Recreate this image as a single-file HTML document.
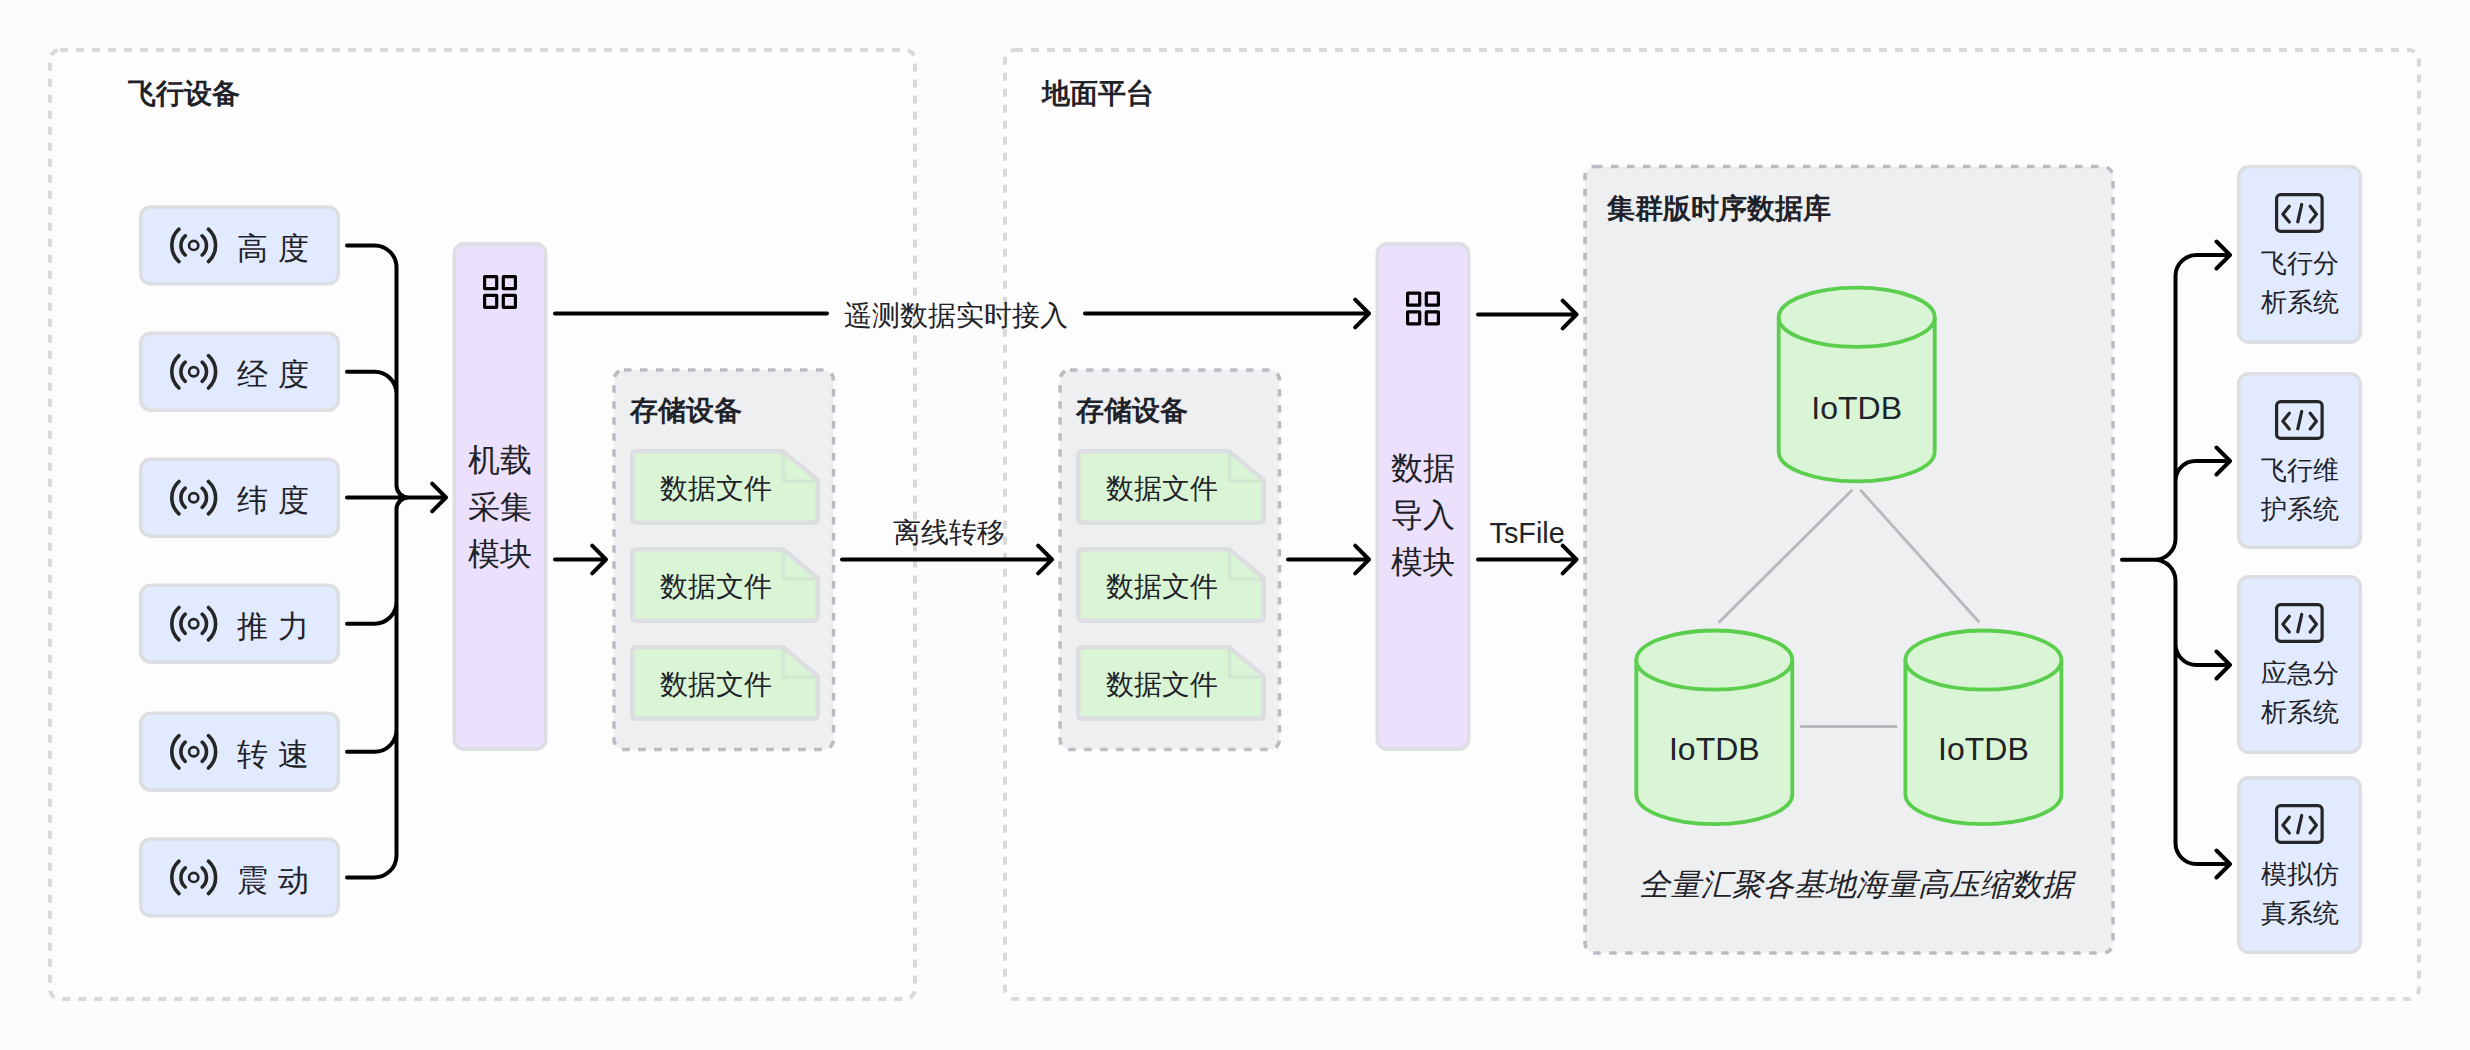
<!DOCTYPE html>
<html><head><meta charset="utf-8"><title>diagram</title>
<style>
html,body{margin:0;padding:0;background:#fcfcfc;}
#root{position:relative;width:2470px;height:1050px;overflow:hidden;background:#fcfcfc;font-family:"Liberation Sans",sans-serif;}
#root svg{position:absolute;left:0;top:0;}
.t{position:absolute;white-space:nowrap;}
</style></head><body>
<div id="root">
<svg width="2470" height="1050" viewBox="0 0 2470 1050">
<defs><filter id="bl" x="-20%" y="-20%" width="140%" height="140%"><feGaussianBlur stdDeviation="1.2"/></filter></defs>
<rect x="50" y="50" width="865" height="949" rx="10" fill="#fdfdfd" stroke="#d9d9d9" stroke-width="4" stroke-dasharray="8 8"/>
<rect x="1005" y="50" width="1414" height="949" rx="10" fill="#fdfdfd" stroke="#d9d9d9" stroke-width="4" stroke-dasharray="8 8"/>
<rect x="140.75" y="206.95" width="197.5" height="76.9" rx="10" fill="#e1eaff" stroke="#dcdee2" stroke-width="3.5"/>
<g fill="none" stroke="#262626" stroke-linecap="round"><circle cx="193.7" cy="245.4" r="4.6" stroke-width="2.7"/>
<path d="M185.24 235.80 A12.8 12.8 0 0 0 185.24 255.00" stroke-width="3.6"/>
<path d="M202.16 235.80 A12.8 12.8 0 0 1 202.16 255.00" stroke-width="3.6"/>
<path d="M178.96 229.20 A21.9 21.9 0 0 0 178.96 261.60" stroke-width="3.6"/>
<path d="M208.44 229.20 A21.9 21.9 0 0 1 208.44 261.60" stroke-width="3.6"/>
</g>
<rect x="140.75" y="333.35" width="197.5" height="76.9" rx="10" fill="#e1eaff" stroke="#dcdee2" stroke-width="3.5"/>
<g fill="none" stroke="#262626" stroke-linecap="round"><circle cx="193.7" cy="371.8" r="4.6" stroke-width="2.7"/>
<path d="M185.24 362.20 A12.8 12.8 0 0 0 185.24 381.40" stroke-width="3.6"/>
<path d="M202.16 362.20 A12.8 12.8 0 0 1 202.16 381.40" stroke-width="3.6"/>
<path d="M178.96 355.60 A21.9 21.9 0 0 0 178.96 388.00" stroke-width="3.6"/>
<path d="M208.44 355.60 A21.9 21.9 0 0 1 208.44 388.00" stroke-width="3.6"/>
</g>
<rect x="140.75" y="459.25" width="197.5" height="76.9" rx="10" fill="#e1eaff" stroke="#dcdee2" stroke-width="3.5"/>
<g fill="none" stroke="#262626" stroke-linecap="round"><circle cx="193.7" cy="497.7" r="4.6" stroke-width="2.7"/>
<path d="M185.24 488.10 A12.8 12.8 0 0 0 185.24 507.30" stroke-width="3.6"/>
<path d="M202.16 488.10 A12.8 12.8 0 0 1 202.16 507.30" stroke-width="3.6"/>
<path d="M178.96 481.50 A21.9 21.9 0 0 0 178.96 513.90" stroke-width="3.6"/>
<path d="M208.44 481.50 A21.9 21.9 0 0 1 208.44 513.90" stroke-width="3.6"/>
</g>
<rect x="140.75" y="585.25" width="197.5" height="76.9" rx="10" fill="#e1eaff" stroke="#dcdee2" stroke-width="3.5"/>
<g fill="none" stroke="#262626" stroke-linecap="round"><circle cx="193.7" cy="623.7" r="4.6" stroke-width="2.7"/>
<path d="M185.24 614.10 A12.8 12.8 0 0 0 185.24 633.30" stroke-width="3.6"/>
<path d="M202.16 614.10 A12.8 12.8 0 0 1 202.16 633.30" stroke-width="3.6"/>
<path d="M178.96 607.50 A21.9 21.9 0 0 0 178.96 639.90" stroke-width="3.6"/>
<path d="M208.44 607.50 A21.9 21.9 0 0 1 208.44 639.90" stroke-width="3.6"/>
</g>
<rect x="140.75" y="713.35" width="197.5" height="76.9" rx="10" fill="#e1eaff" stroke="#dcdee2" stroke-width="3.5"/>
<g fill="none" stroke="#262626" stroke-linecap="round"><circle cx="193.7" cy="751.8" r="4.6" stroke-width="2.7"/>
<path d="M185.24 742.20 A12.8 12.8 0 0 0 185.24 761.40" stroke-width="3.6"/>
<path d="M202.16 742.20 A12.8 12.8 0 0 1 202.16 761.40" stroke-width="3.6"/>
<path d="M178.96 735.60 A21.9 21.9 0 0 0 178.96 768.00" stroke-width="3.6"/>
<path d="M208.44 735.60 A21.9 21.9 0 0 1 208.44 768.00" stroke-width="3.6"/>
</g>
<rect x="140.75" y="838.95" width="197.5" height="76.9" rx="10" fill="#e1eaff" stroke="#dcdee2" stroke-width="3.5"/>
<g fill="none" stroke="#262626" stroke-linecap="round"><circle cx="193.7" cy="877.4" r="4.6" stroke-width="2.7"/>
<path d="M185.24 867.80 A12.8 12.8 0 0 0 185.24 887.00" stroke-width="3.6"/>
<path d="M202.16 867.80 A12.8 12.8 0 0 1 202.16 887.00" stroke-width="3.6"/>
<path d="M178.96 861.20 A21.9 21.9 0 0 0 178.96 893.60" stroke-width="3.6"/>
<path d="M208.44 861.20 A21.9 21.9 0 0 1 208.44 893.60" stroke-width="3.6"/>
</g>
<path d="M347 245.4 H374.5 A22 22 0 0 1 396.5 267.4 V485.5 A12 12 0 0 0 408.5 497.5 H446 M347 371.8 H374.5 A22 22 0 0 1 396.5 393.8 V485.5 A12 12 0 0 0 408.5 497.5 H446 M347 497.5 H446 M347 623.7 H374.5 A22 22 0 0 0 396.5 601.7 V509.5 A12 12 0 0 1 408.5 497.5 H446 M347 751.8 H374.5 A22 22 0 0 0 396.5 729.8 V509.5 A12 12 0 0 1 408.5 497.5 H446 M347 877.4 H374.5 A22 22 0 0 0 396.5 855.4 V509.5 A12 12 0 0 1 408.5 497.5 H446 M432.2 483.7 L446 497.5 L432.2 511.3" fill="none" stroke="#000000" stroke-width="4" stroke-linecap="round" stroke-linejoin="round"/>
<rect x="454.25" y="243.75" width="91.5" height="505.5" rx="10" fill="#ebe1fd" stroke="#dcdee2" stroke-width="3.5"/>
<rect x="484.60" y="276.60" width="12.10" height="12.10" rx="0.3" fill="none" stroke="#000" stroke-width="3.2"/>
<rect x="484.60" y="295.30" width="12.10" height="12.10" rx="0.3" fill="none" stroke="#000" stroke-width="3.2"/>
<rect x="503.30" y="276.60" width="12.10" height="12.10" rx="0.3" fill="none" stroke="#000" stroke-width="3.2"/>
<rect x="503.30" y="295.30" width="12.10" height="12.10" rx="0.3" fill="none" stroke="#000" stroke-width="3.2"/>
<rect x="1377.25" y="243.75" width="91.5" height="505.5" rx="10" fill="#ebe1fd" stroke="#dcdee2" stroke-width="3.5"/>
<rect x="1407.60" y="293.10" width="12.10" height="12.10" rx="0.3" fill="none" stroke="#000" stroke-width="3.2"/>
<rect x="1407.60" y="311.80" width="12.10" height="12.10" rx="0.3" fill="none" stroke="#000" stroke-width="3.2"/>
<rect x="1426.30" y="293.10" width="12.10" height="12.10" rx="0.3" fill="none" stroke="#000" stroke-width="3.2"/>
<rect x="1426.30" y="311.80" width="12.10" height="12.10" rx="0.3" fill="none" stroke="#000" stroke-width="3.2"/>
<path d="M555 313.5 H827" fill="none" stroke="#000" stroke-width="4" stroke-linecap="round"/>
<path d="M1085 313.5 H1369 M1355.2 299.7 L1369 313.5 L1355.2 327.3" fill="none" stroke="#000000" stroke-width="4" stroke-linecap="round" stroke-linejoin="round"/>
<path d="M555 559.5 H606 M592.2 545.7 L606 559.5 L592.2 573.3" fill="none" stroke="#000000" stroke-width="4" stroke-linecap="round" stroke-linejoin="round"/>
<path d="M842 559.5 H1052 M1038.2 545.7 L1052 559.5 L1038.2 573.3" fill="none" stroke="#000000" stroke-width="4" stroke-linecap="round" stroke-linejoin="round"/>
<path d="M1288 559.5 H1369 M1355.2 545.7 L1369 559.5 L1355.2 573.3" fill="none" stroke="#000000" stroke-width="4" stroke-linecap="round" stroke-linejoin="round"/>
<path d="M1478 314.5 H1576.5 M1562.7 300.7 L1576.5 314.5 L1562.7 328.3" fill="none" stroke="#000000" stroke-width="4" stroke-linecap="round" stroke-linejoin="round"/>
<path d="M1478 559.5 H1576.5 M1562.7 545.7 L1576.5 559.5 L1562.7 573.3" fill="none" stroke="#000000" stroke-width="4" stroke-linecap="round" stroke-linejoin="round"/>
<rect x="614" y="370" width="219.5" height="379.5" rx="10" fill="#eeeff1" stroke="#b9bdc3" stroke-width="3.6" stroke-dasharray="7.5 8.5"/>
<path d="M632.25 455.25 Q632.25 451.25 636.25 451.25 H783 L817.75 480 V518.75 Q817.75 522.75 813.75 522.75 H636.25 Q632.25 522.75 632.25 518.75 Z" fill="#d9f5d6" stroke="#dcdee2" stroke-width="4.5" stroke-linejoin="round"/>
<path d="M783.5 452.25 V481 H815.75" fill="none" stroke="#cfdccf" stroke-width="2.2" filter="url(#bl)"/>
<path d="M632.25 553.25 Q632.25 549.25 636.25 549.25 H783 L817.75 578 V616.75 Q817.75 620.75 813.75 620.75 H636.25 Q632.25 620.75 632.25 616.75 Z" fill="#d9f5d6" stroke="#dcdee2" stroke-width="4.5" stroke-linejoin="round"/>
<path d="M783.5 550.25 V579 H815.75" fill="none" stroke="#cfdccf" stroke-width="2.2" filter="url(#bl)"/>
<path d="M632.25 651.25 Q632.25 647.25 636.25 647.25 H783 L817.75 676 V714.75 Q817.75 718.75 813.75 718.75 H636.25 Q632.25 718.75 632.25 714.75 Z" fill="#d9f5d6" stroke="#dcdee2" stroke-width="4.5" stroke-linejoin="round"/>
<path d="M783.5 648.25 V677 H815.75" fill="none" stroke="#cfdccf" stroke-width="2.2" filter="url(#bl)"/>
<rect x="1060" y="370" width="219.5" height="379.5" rx="10" fill="#eeeff1" stroke="#b9bdc3" stroke-width="3.6" stroke-dasharray="7.5 8.5"/>
<path d="M1078.25 455.25 Q1078.25 451.25 1082.25 451.25 H1229 L1263.75 480 V518.75 Q1263.75 522.75 1259.75 522.75 H1082.25 Q1078.25 522.75 1078.25 518.75 Z" fill="#d9f5d6" stroke="#dcdee2" stroke-width="4.5" stroke-linejoin="round"/>
<path d="M1229.5 452.25 V481 H1261.75" fill="none" stroke="#cfdccf" stroke-width="2.2" filter="url(#bl)"/>
<path d="M1078.25 553.25 Q1078.25 549.25 1082.25 549.25 H1229 L1263.75 578 V616.75 Q1263.75 620.75 1259.75 620.75 H1082.25 Q1078.25 620.75 1078.25 616.75 Z" fill="#d9f5d6" stroke="#dcdee2" stroke-width="4.5" stroke-linejoin="round"/>
<path d="M1229.5 550.25 V579 H1261.75" fill="none" stroke="#cfdccf" stroke-width="2.2" filter="url(#bl)"/>
<path d="M1078.25 651.25 Q1078.25 647.25 1082.25 647.25 H1229 L1263.75 676 V714.75 Q1263.75 718.75 1259.75 718.75 H1082.25 Q1078.25 718.75 1078.25 714.75 Z" fill="#d9f5d6" stroke="#dcdee2" stroke-width="4.5" stroke-linejoin="round"/>
<path d="M1229.5 648.25 V677 H1261.75" fill="none" stroke="#cfdccf" stroke-width="2.2" filter="url(#bl)"/>
<rect x="1585" y="166.5" width="528" height="786.5" rx="10" fill="#eeeff1" stroke="#b9bdc3" stroke-width="3.6" stroke-dasharray="7.5 8.5"/>
<path d="M1851.4 490.7 L1719.4 621.9 M1861.1 490.7 L1978.5 621.4 M1801 726.5 H1896" fill="none" stroke="#b7bbc0" stroke-width="3" stroke-linecap="round"/>
<path d="M1778.7 317.3 V451.8 A78 29.6 0 0 0 1934.7 451.8 V317.3" fill="#d9f5d6" stroke="#5bce4e" stroke-width="3.8"/>
<ellipse cx="1856.7" cy="317.3" rx="78" ry="29.6" fill="#d9f5d6" stroke="#5bce4e" stroke-width="3.8"/>
<path d="M1636.3 660.1 V794.6 A78 29.6 0 0 0 1792.3 794.6 V660.1" fill="#d9f5d6" stroke="#5bce4e" stroke-width="3.8"/>
<ellipse cx="1714.3" cy="660.1" rx="78" ry="29.6" fill="#d9f5d6" stroke="#5bce4e" stroke-width="3.8"/>
<path d="M1905.4 660.1 V794.6 A78 29.6 0 0 0 2061.4 794.6 V660.1" fill="#d9f5d6" stroke="#5bce4e" stroke-width="3.8"/>
<ellipse cx="1983.4" cy="660.1" rx="78" ry="29.6" fill="#d9f5d6" stroke="#5bce4e" stroke-width="3.8"/>
<path d="M2122 559.7 H2154.5 A21 21 0 0 0 2175.5 538.7 V276 A21 21 0 0 1 2196.5 255 H2230 M2122 559.7 H2154.5 A21 21 0 0 0 2175.5 538.7 V481 A20 20 0 0 1 2195.5 461 H2230 M2122 559.7 H2154.5 A21 21 0 0 1 2175.5 580.7 V644 A21 21 0 0 0 2196.5 665 H2230 M2122 559.7 H2154.5 A21 21 0 0 1 2175.5 580.7 V843 A21 21 0 0 0 2196.5 864 H2230 M2216.5 241.5 L2230 255 L2216.5 268.5 M2216.5 447.5 L2230 461 L2216.5 474.5 M2216.5 651.5 L2230 665 L2216.5 678.5 M2216.5 850.5 L2230 864 L2216.5 877.5" fill="none" stroke="#000000" stroke-width="4" stroke-linecap="round" stroke-linejoin="round"/>
<rect x="2238.75" y="166.75" width="121.5" height="175.5" rx="10" fill="#e1eaff" stroke="#dcdee2" stroke-width="3.5"/>
<g fill="none" stroke="#262626" stroke-width="3.2" stroke-linecap="round" stroke-linejoin="round"><rect x="2276.6" y="194.6" width="45.5" height="36.8" rx="4"/><path d="M2289.3 206.3 L2282.9 214.3 L2289.3 222 M2301.7 204.5 L2297.8 221.8 M2310.2 206.3 L2316.4 214.3 L2310.2 222"/></g>
<rect x="2238.75" y="373.75" width="121.5" height="173.5" rx="10" fill="#e1eaff" stroke="#dcdee2" stroke-width="3.5"/>
<g fill="none" stroke="#262626" stroke-width="3.2" stroke-linecap="round" stroke-linejoin="round"><rect x="2276.6" y="401.6" width="45.5" height="36.8" rx="4"/><path d="M2289.3 413.3 L2282.9 421.3 L2289.3 429 M2301.7 411.5 L2297.8 428.8 M2310.2 413.3 L2316.4 421.3 L2310.2 429"/></g>
<rect x="2238.75" y="576.75" width="121.5" height="175.5" rx="10" fill="#e1eaff" stroke="#dcdee2" stroke-width="3.5"/>
<g fill="none" stroke="#262626" stroke-width="3.2" stroke-linecap="round" stroke-linejoin="round"><rect x="2276.6" y="604.6" width="45.5" height="36.8" rx="4"/><path d="M2289.3 616.3 L2282.9 624.3 L2289.3 632 M2301.7 614.5 L2297.8 631.8 M2310.2 616.3 L2316.4 624.3 L2310.2 632"/></g>
<rect x="2238.75" y="777.75" width="121.5" height="174.5" rx="10" fill="#e1eaff" stroke="#dcdee2" stroke-width="3.5"/>
<g fill="none" stroke="#262626" stroke-width="3.2" stroke-linecap="round" stroke-linejoin="round"><rect x="2276.6" y="805.6" width="45.5" height="36.8" rx="4"/><path d="M2289.3 817.3 L2282.9 825.3 L2289.3 833 M2301.7 815.5 L2297.8 832.8 M2310.2 817.3 L2316.4 825.3 L2310.2 833"/></g>
</svg>
<div class="t" style="left:128px;top:77px;font-size:28px;line-height:33.6px;font-weight:700;font-style:normal;letter-spacing:0px;color:#1f2329;">飞行设备</div>
<div class="t" style="left:1042px;top:77px;font-size:28px;line-height:33.6px;font-weight:700;font-style:normal;letter-spacing:0px;color:#1f2329;">地面平台</div>
<div class="t" style="left:237px;top:229.7px;font-size:31px;line-height:37.2px;font-weight:400;font-style:normal;letter-spacing:0.6px;color:#1f2329;">高 度</div>
<div class="t" style="left:237px;top:356.1px;font-size:31px;line-height:37.2px;font-weight:400;font-style:normal;letter-spacing:0.6px;color:#1f2329;">经 度</div>
<div class="t" style="left:237px;top:482.0px;font-size:31px;line-height:37.2px;font-weight:400;font-style:normal;letter-spacing:0.6px;color:#1f2329;">纬 度</div>
<div class="t" style="left:237px;top:608.0px;font-size:31px;line-height:37.2px;font-weight:400;font-style:normal;letter-spacing:0.6px;color:#1f2329;">推 力</div>
<div class="t" style="left:237px;top:736.1px;font-size:31px;line-height:37.2px;font-weight:400;font-style:normal;letter-spacing:0.6px;color:#1f2329;">转 速</div>
<div class="t" style="left:237px;top:861.7px;font-size:31px;line-height:37.2px;font-weight:400;font-style:normal;letter-spacing:0.6px;color:#1f2329;">震 动</div>
<div class="t" style="left:468.0px;top:437px;font-size:32px;line-height:47px;font-weight:400;font-style:normal;letter-spacing:0px;color:#1f2329;text-align:center;width:64px">机载<br>采集<br>模块</div>
<div class="t" style="left:1391.0px;top:445px;font-size:32px;line-height:47px;font-weight:400;font-style:normal;letter-spacing:0px;color:#1f2329;text-align:center;width:64px">数据<br>导入<br>模块</div>
<div class="t" style="left:844px;top:298.5px;font-size:28px;line-height:33.6px;font-weight:400;font-style:normal;letter-spacing:0px;color:#1f2329;">遥测数据实时接入</div>
<div class="t" style="left:892.5px;top:516px;font-size:28px;line-height:33.6px;font-weight:400;font-style:normal;letter-spacing:0px;color:#1f2329;">离线转移</div>
<div class="t" style="left:1489.5px;top:515.5px;font-size:28.8px;line-height:34.56px;font-weight:400;font-style:normal;letter-spacing:0px;color:#1f2329;">TsFile</div>
<div class="t" style="left:630px;top:394px;font-size:28px;line-height:33.6px;font-weight:700;font-style:normal;letter-spacing:0px;color:#1f2329;">存储设备</div>
<div class="t" style="left:660px;top:472px;font-size:28px;line-height:33.6px;font-weight:400;font-style:normal;letter-spacing:0px;color:#1f2329;">数据文件</div>
<div class="t" style="left:660px;top:570px;font-size:28px;line-height:33.6px;font-weight:400;font-style:normal;letter-spacing:0px;color:#1f2329;">数据文件</div>
<div class="t" style="left:660px;top:668px;font-size:28px;line-height:33.6px;font-weight:400;font-style:normal;letter-spacing:0px;color:#1f2329;">数据文件</div>
<div class="t" style="left:1076px;top:394px;font-size:28px;line-height:33.6px;font-weight:700;font-style:normal;letter-spacing:0px;color:#1f2329;">存储设备</div>
<div class="t" style="left:1106px;top:472px;font-size:28px;line-height:33.6px;font-weight:400;font-style:normal;letter-spacing:0px;color:#1f2329;">数据文件</div>
<div class="t" style="left:1106px;top:570px;font-size:28px;line-height:33.6px;font-weight:400;font-style:normal;letter-spacing:0px;color:#1f2329;">数据文件</div>
<div class="t" style="left:1106px;top:668px;font-size:28px;line-height:33.6px;font-weight:400;font-style:normal;letter-spacing:0px;color:#1f2329;">数据文件</div>
<div class="t" style="left:1607px;top:191.5px;font-size:28px;line-height:33.6px;font-weight:700;font-style:normal;letter-spacing:0px;color:#1f2329;">集群版时序数据库</div>
<div class="t" style="left:1806.7px;top:389.3px;font-size:32px;line-height:38.4px;font-weight:400;font-style:normal;letter-spacing:0px;color:#1f2329;width:100px;text-align:center">IoTDB</div>
<div class="t" style="left:1664.3px;top:730.1px;font-size:32px;line-height:38.4px;font-weight:400;font-style:normal;letter-spacing:0px;color:#1f2329;width:100px;text-align:center">IoTDB</div>
<div class="t" style="left:1933.4px;top:730.1px;font-size:32px;line-height:38.4px;font-weight:400;font-style:normal;letter-spacing:0px;color:#1f2329;width:100px;text-align:center">IoTDB</div>
<div class="t" style="left:1639px;top:866px;font-size:31px;line-height:37.2px;font-weight:400;font-style:italic;letter-spacing:0px;color:#1f2329;">全量汇聚各基地海量高压缩数据</div>
<div class="t" style="left:2260px;top:243.5px;font-size:26px;line-height:39.5px;font-weight:400;font-style:normal;letter-spacing:0px;color:#1f2329;width:80px;text-align:center">飞行分<br>析系统</div>
<div class="t" style="left:2260px;top:450.5px;font-size:26px;line-height:39.5px;font-weight:400;font-style:normal;letter-spacing:0px;color:#1f2329;width:80px;text-align:center">飞行维<br>护系统</div>
<div class="t" style="left:2260px;top:653.5px;font-size:26px;line-height:39.5px;font-weight:400;font-style:normal;letter-spacing:0px;color:#1f2329;width:80px;text-align:center">应急分<br>析系统</div>
<div class="t" style="left:2260px;top:854.5px;font-size:26px;line-height:39.5px;font-weight:400;font-style:normal;letter-spacing:0px;color:#1f2329;width:80px;text-align:center">模拟仿<br>真系统</div>
</div>
</body></html>
